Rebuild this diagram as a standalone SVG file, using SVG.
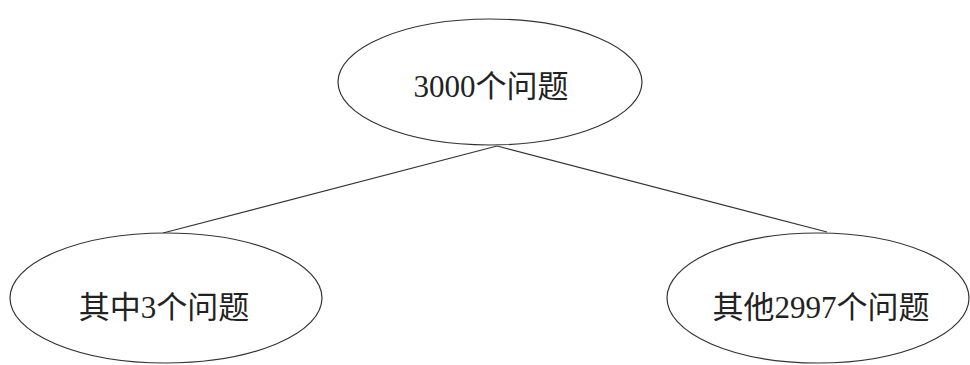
<svg xmlns="http://www.w3.org/2000/svg" width="970" height="365" viewBox="0 0 970 365">
<style>
.node ellipse{fill:#ffffff;stroke:#333333;stroke-width:1.2}
.node text{font-family:"Liberation Serif","Noto Sans CJK SC",serif;font-size:31px;fill:#222222;text-anchor:middle}
#edges line{stroke:#333333;stroke-width:1.2}
</style>
<rect width="970" height="365" fill="#ffffff"/>
<g id="edges">
<line x1="497" y1="146" x2="163" y2="233"/>
<line x1="497" y1="146" x2="827" y2="232"/>
</g>
<g id="root" class="node">
<ellipse cx="490" cy="82" rx="152" ry="63"/>
<text x="491" y="97">3000个问题</text>
</g>
<g id="left" class="node">
<ellipse cx="166" cy="298" rx="156" ry="65"/>
<text x="164" y="318">其中3个问题</text>
</g>
<g id="right" class="node">
<ellipse cx="818" cy="298" rx="151" ry="65"/>
<text x="821" y="318">其他2997个问题</text>
</g>
</svg>
